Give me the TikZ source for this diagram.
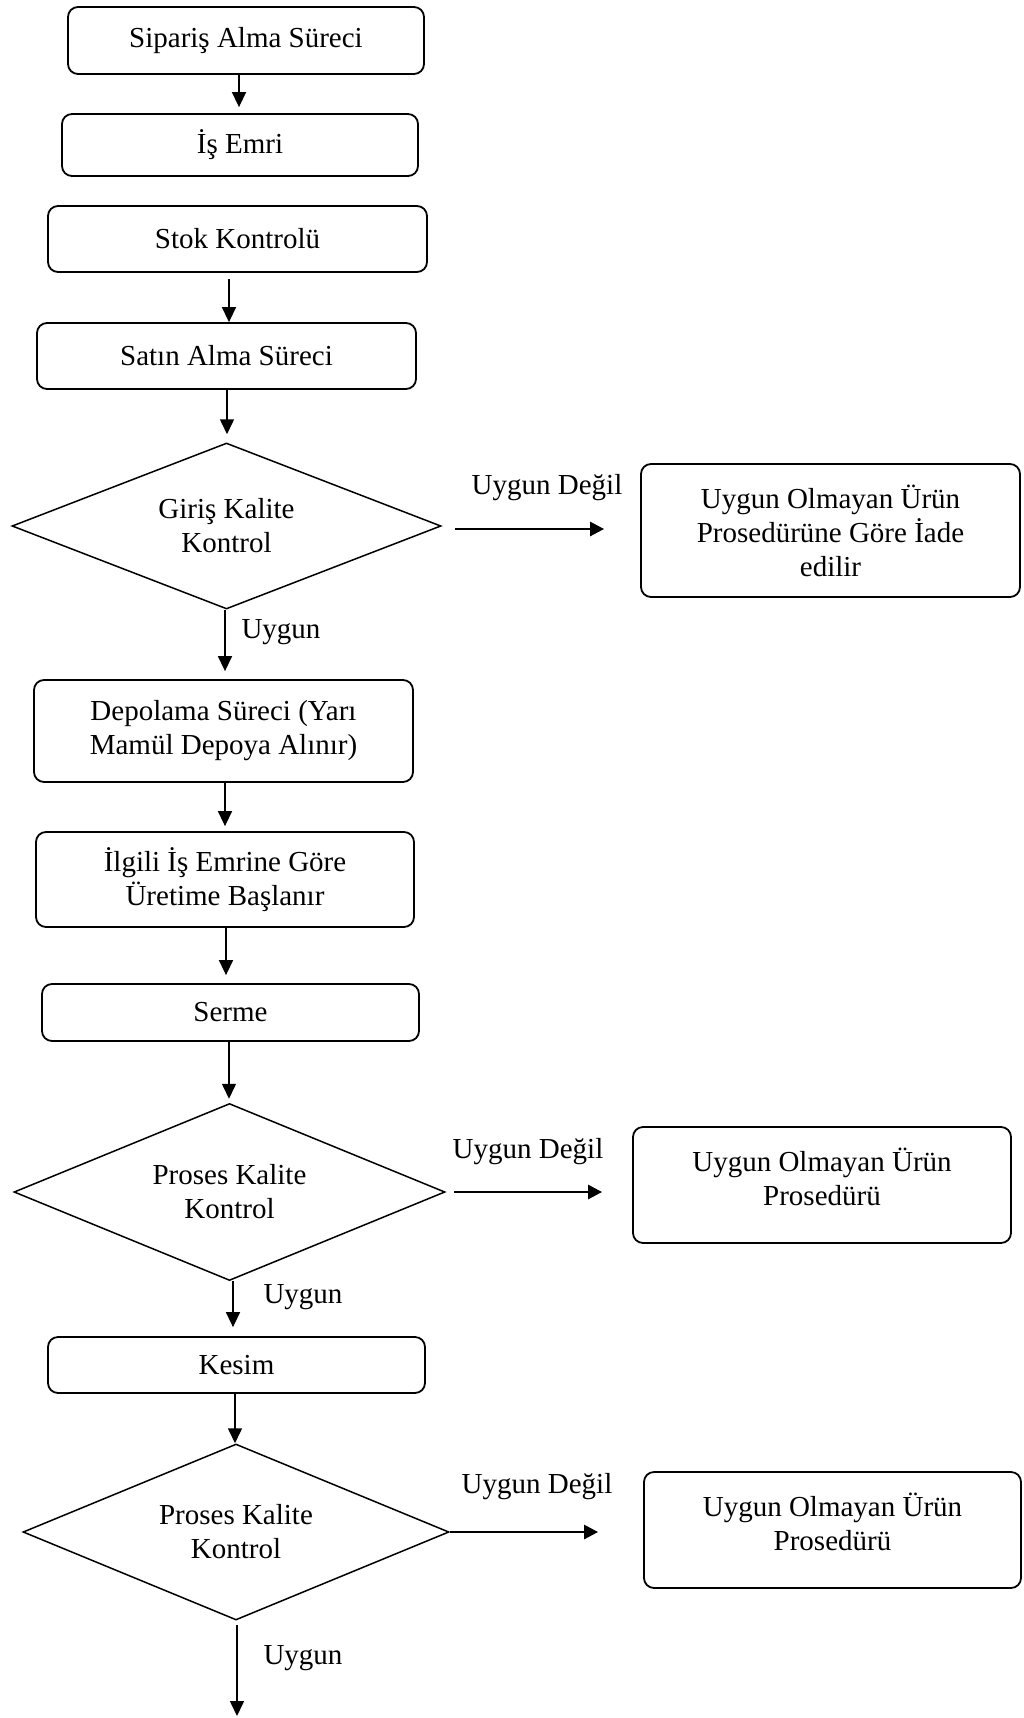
\documentclass[tikz,border=0pt]{standalone}
\usepackage{fontspec}
\setmainfont{Liberation Serif}
\usetikzlibrary{shapes.geometric,arrows.meta}
\begin{document}
\begin{tikzpicture}[x=1pt,y=-1pt,
  every node/.style={font=\fontsize{29}{34}\selectfont, align=center},
  box/.style={draw, line width=1.8pt, rounded corners=10pt, inner sep=0pt},
  raised/.style={text depth=16pt},
  dia/.style={draw, shape=diamond, shape aspect=2.6, line width=1.5pt, inner sep=0pt},
  varr/.style={line width=1.5pt, -{Triangle[length=15pt,width=14pt]}},
  harr/.style={line width=2.6pt, -{Triangle[length=14pt,width=14pt]}},
  lbl/.style={inner sep=0pt}
]
\useasboundingbox (0,0) rectangle (1023,1718);
\node[box, minimum width=356pt, minimum height=67pt] (b1) at (246,40.5) {Sipariş Alma Süreci};
\node[box, minimum width=356pt, minimum height=62pt] (b2) at (240,145) {İş Emri};
\node[box, minimum width=379pt, minimum height=66pt] (b3) at (237.5,239) {Stok Kontrolü};
\node[box, minimum width=379pt, minimum height=66pt] (b4) at (226.5,356) {Satın Alma Süreci};
\node[dia, minimum width=429pt, minimum height=166pt] (d1) at (226.5,526) {Giriş Kalite\\Kontrol};
\node[box, minimum width=379pt, minimum height=133pt] (r1) at (830.5,530.5) {Uygun Olmayan Ürün\\Prosedürüne Göre İade\\edilir};
\node[box, minimum width=379pt, minimum height=102pt] (b5) at (223.5,731) {Depolama Süreci (Yarı\\Mamül Depoya Alınır)};
\node[box, minimum width=378pt, minimum height=95pt] (b6) at (225,879.5) {İlgili İş Emrine Göre\\Üretime Başlanır};
\node[box, minimum width=377pt, minimum height=57pt] (b7) at (230.5,1012.5) {Serme};
\node[dia, minimum width=431pt, minimum height=177pt] (d2) at (229.5,1192) {Proses Kalite\\Kontrol};
\node[box, raised, minimum width=378pt, minimum height=116pt] (r2) at (822,1185) {Uygun Olmayan Ürün\\Prosedürü};
\node[box, minimum width=377pt, minimum height=56pt] (b8) at (236.5,1365) {Kesim};
\node[dia, minimum width=426pt, minimum height=176pt] (d3) at (236,1532) {Proses Kalite\\Kontrol};
\node[box, raised, minimum width=377pt, minimum height=116pt] (r3) at (832.5,1530) {Uygun Olmayan Ürün\\Prosedürü};

\node[lbl] (u1) at (281,632) {Uygun};
\node[lbl] (u2) at (303,1297) {Uygun};
\node[lbl] (u3) at (303,1658) {Uygun};
\node[lbl] (n1) at (547,488) {Uygun Değil};
\node[lbl] (n2) at (528,1152) {Uygun Değil};
\node[lbl] (n3) at (537,1487) {Uygun Değil};

\coordinate (end) at (237,1716);

\draw[varr] ([xshift=-7pt]b1.south) -- ([xshift=-1pt,yshift=6pt]b2.north);
\draw[varr] ([xshift=-8.5pt,yshift=-6pt]b3.south) -- ([xshift=2.5pt]b4.north);
\draw[varr] ([xshift=0.5pt]b4.south) -- ([xshift=0.5pt,yshift=8pt]d1.north);
\draw[varr] ([xshift=-1.5pt]d1.south) -- ([xshift=1.5pt,yshift=8pt]b5.north);
\draw[varr] ([xshift=1.5pt]b5.south) -- ([yshift=5pt]b6.north);
\draw[varr] ([xshift=1pt]b6.south) -- ([xshift=-4.5pt,yshift=8pt]b7.north);
\draw[varr] ([xshift=-1.5pt]b7.south) -- ([xshift=-0.5pt,yshift=4pt]d2.north);
\draw[varr] ([xshift=3.5pt]d2.south) -- ([xshift=-3.5pt,yshift=9pt]b8.north);
\draw[varr] ([xshift=-1.5pt]b8.south) -- ([xshift=-1pt]d3.north);
\draw[varr] ([xshift=1pt,yshift=-4pt]d3.south) -- (end);

\draw[harr] ([xshift=13pt,yshift=-3pt]d1.east) -- ([xshift=-36pt,yshift=1.5pt]r1.west);
\draw[harr] ([xshift=8pt]d2.east) -- ([xshift=-30pt,yshift=-7pt]r2.west);
\draw[harr] (d3.east) -- ([xshift=-45pt,yshift=-2pt]r3.west);
\end{tikzpicture}
\end{document}
